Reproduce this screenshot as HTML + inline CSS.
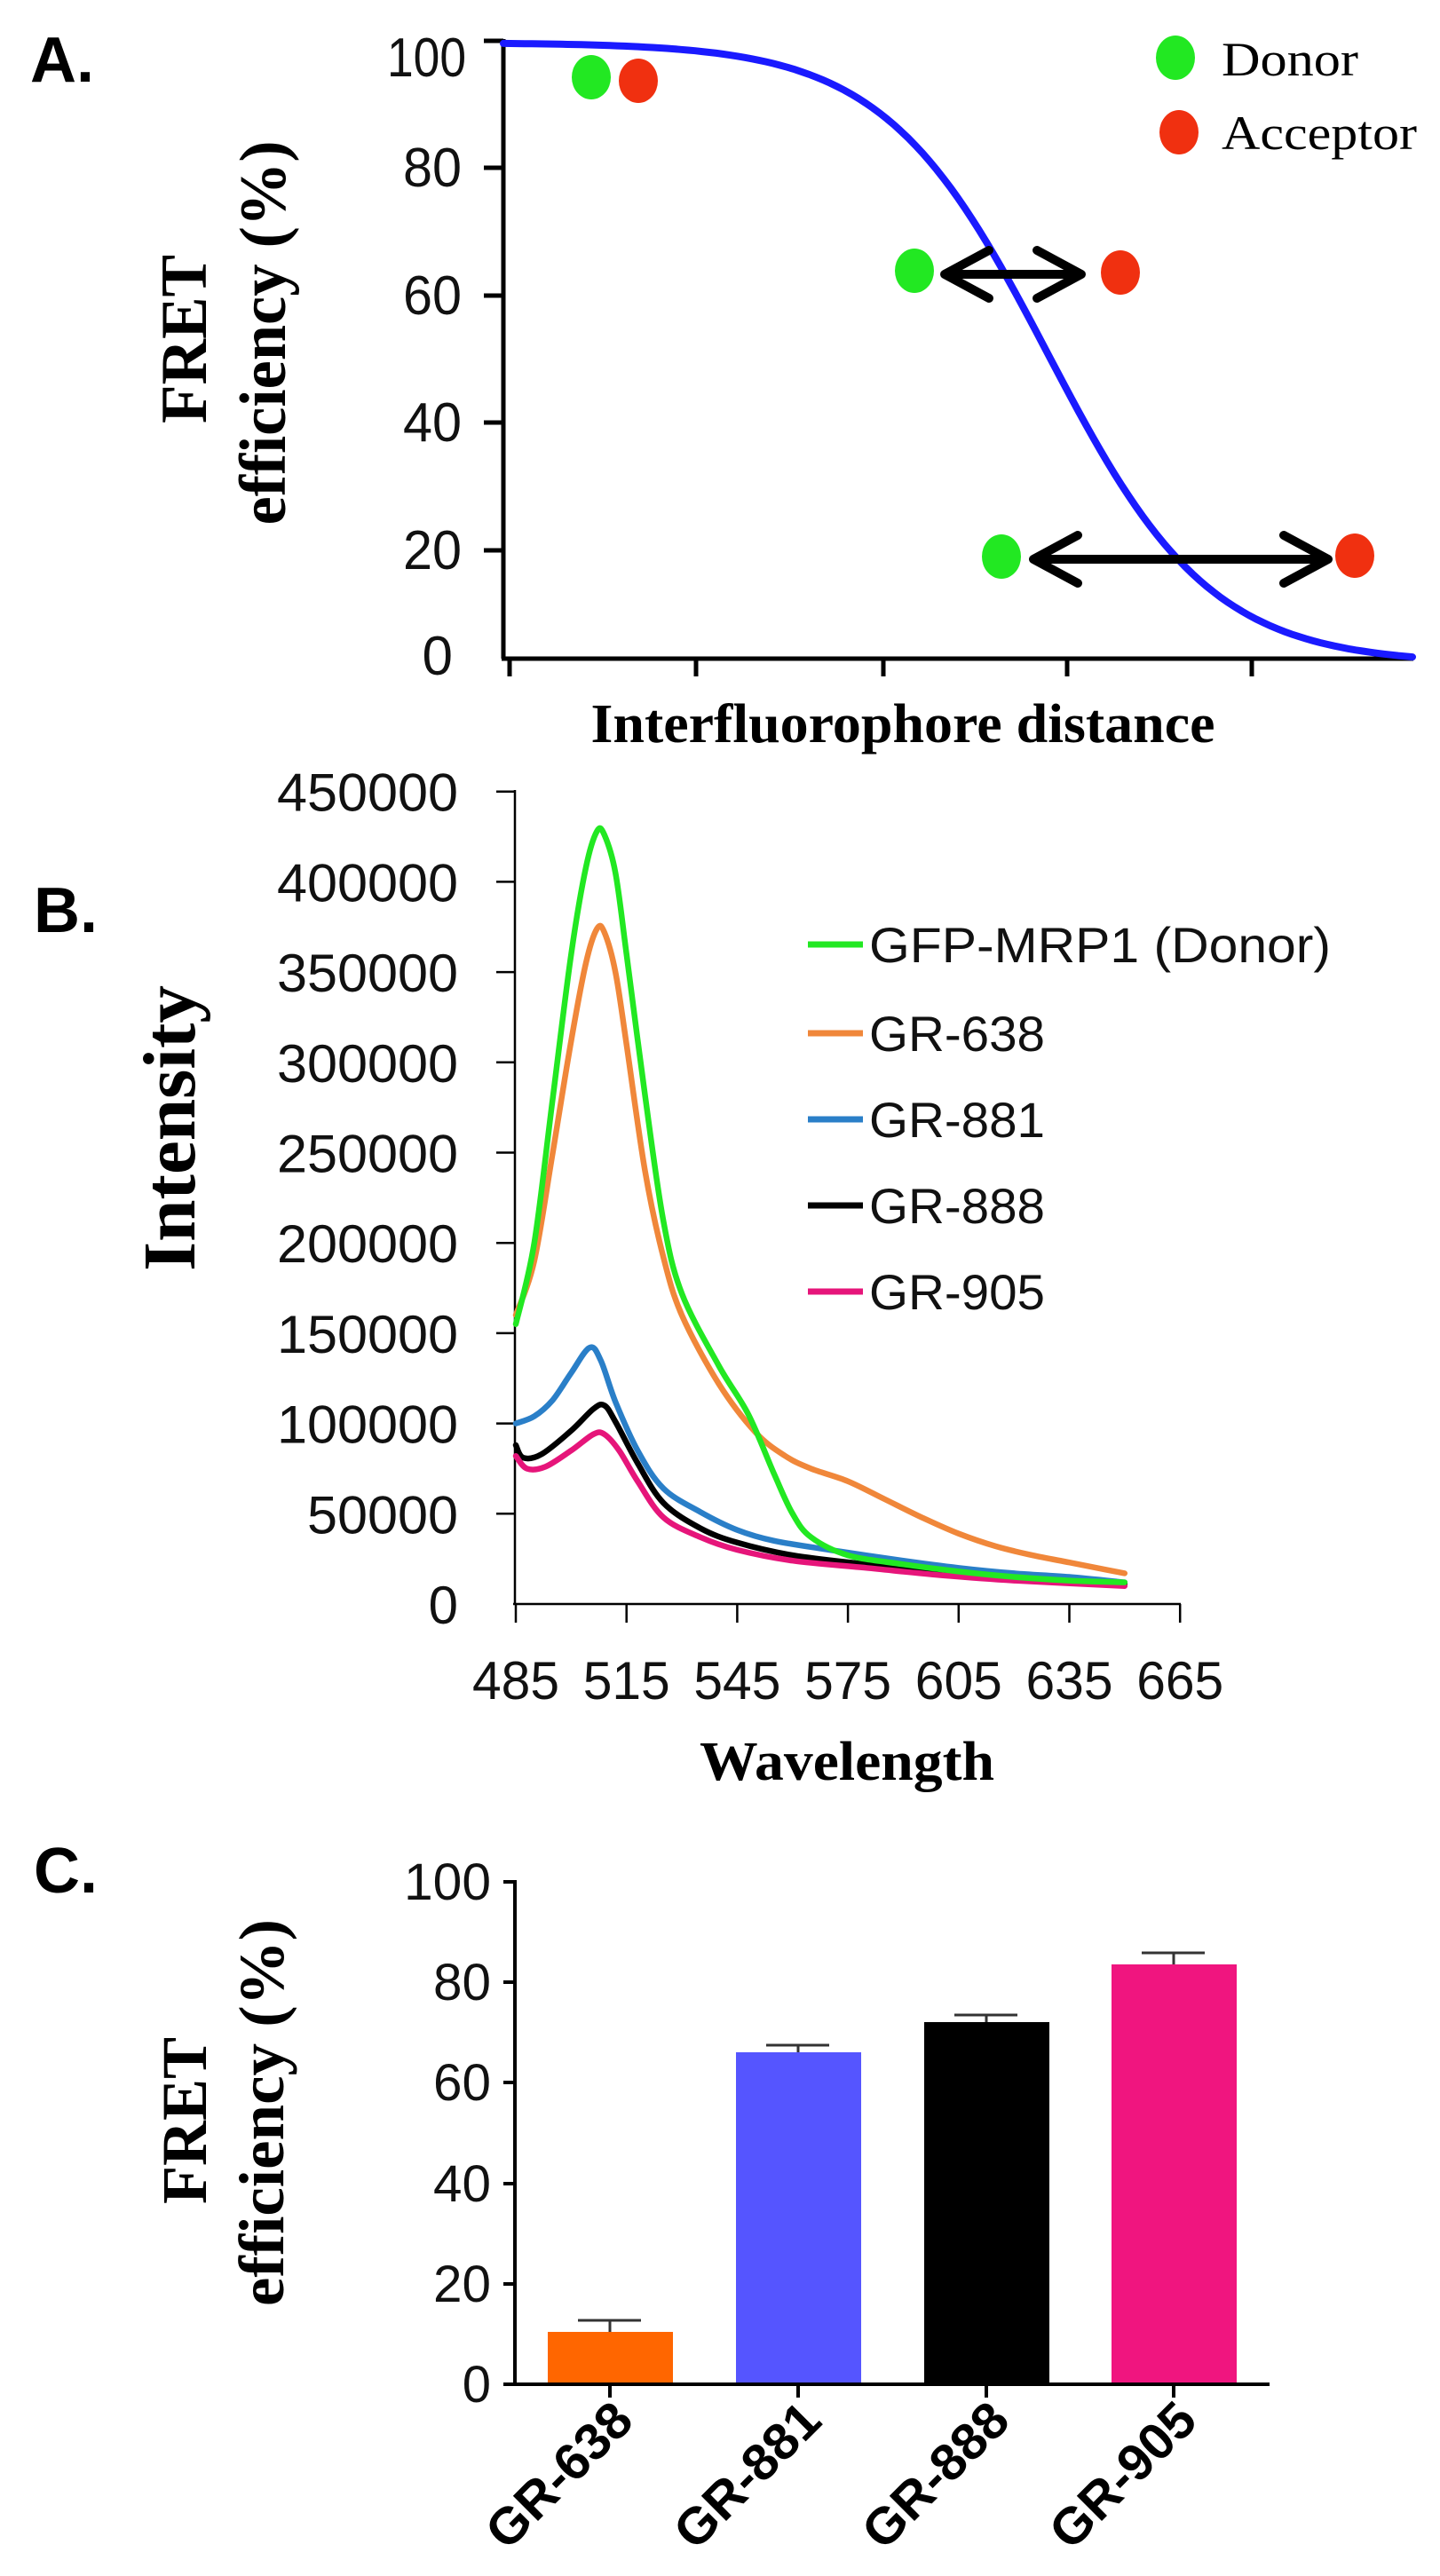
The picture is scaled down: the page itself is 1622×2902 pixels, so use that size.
<!DOCTYPE html>
<html><head><meta charset="utf-8">
<style>
html,body{margin:0;padding:0;background:#fff;}
svg{display:block;}
.sans{font-family:"Liberation Sans",sans-serif;}
.serif{font-family:"Liberation Serif",serif;}
</style></head>
<body>
<svg id="s" width="1622" height="2902" viewBox="0 0 1622 2902" xmlns="http://www.w3.org/2000/svg">
<rect width="1622" height="2902" fill="#fff"/>

<!-- ============ PANEL A ============ -->
<text x="34" y="92" class="sans" font-size="72" font-weight="bold">A.</text>
<g stroke="#000" stroke-width="5" fill="none">
  <line x1="567" y1="44" x2="567" y2="742"/>
  <line x1="565" y1="742" x2="1592" y2="742"/>
  <line x1="545" y1="46" x2="567" y2="46"/>
  <line x1="545" y1="189" x2="567" y2="189"/>
  <line x1="545" y1="333" x2="567" y2="333"/>
  <line x1="545" y1="476" x2="567" y2="476"/>
  <line x1="545" y1="620" x2="567" y2="620"/>
  <line x1="574" y1="742" x2="574" y2="762"/>
  <line x1="784" y1="742" x2="784" y2="762"/>
  <line x1="995" y1="742" x2="995" y2="762"/>
  <line x1="1202" y1="742" x2="1202" y2="762"/>
  <line x1="1410" y1="742" x2="1410" y2="762"/>
</g>
<g class="sans" font-size="62" text-anchor="end" fill="#111">
  <text x="525" y="86" textLength="89" lengthAdjust="spacingAndGlyphs">100</text>
  <text x="520" y="210" textLength="66" lengthAdjust="spacingAndGlyphs">80</text>
  <text x="520" y="354" textLength="66" lengthAdjust="spacingAndGlyphs">60</text>
  <text x="520" y="497" textLength="66" lengthAdjust="spacingAndGlyphs">40</text>
  <text x="520" y="641" textLength="66" lengthAdjust="spacingAndGlyphs">20</text>
  <text x="510" y="760">0</text>
</g>
<text transform="translate(232,382) rotate(-90)" class="serif" font-size="74" font-weight="bold" text-anchor="middle" textLength="190" lengthAdjust="spacingAndGlyphs">FRET</text>
<text transform="translate(321,375) rotate(-90)" class="serif" font-size="74" font-weight="bold" text-anchor="middle" textLength="433" lengthAdjust="spacingAndGlyphs">efficiency (%)</text>
<text x="1017" y="836" class="serif" font-size="62" font-weight="bold" text-anchor="middle" textLength="703" lengthAdjust="spacingAndGlyphs">Interfluorophore distance</text>

<path id="curveA" fill="none" stroke="#1a1aff" stroke-width="8" stroke-linecap="round"/>

<!-- dots & arrows -->
<ellipse cx="666" cy="87" rx="22" ry="25" fill="#22e822"/>
<ellipse cx="719" cy="91" rx="22" ry="25" fill="#f03010"/>
<ellipse cx="1324" cy="65" rx="22" ry="25" fill="#22e822"/>
<ellipse cx="1328" cy="149" rx="22" ry="25" fill="#f03010"/>
<text x="1376" y="85" class="serif" font-size="54" textLength="154" lengthAdjust="spacingAndGlyphs">Donor</text>
<text x="1376" y="168" class="serif" font-size="54" textLength="220" lengthAdjust="spacingAndGlyphs">Acceptor</text>

<ellipse cx="1030" cy="305" rx="22" ry="25" fill="#22e822"/>
<ellipse cx="1262" cy="307" rx="22" ry="25" fill="#f03010"/>
<ellipse cx="1128" cy="627" rx="22" ry="25" fill="#22e822"/>
<ellipse cx="1526" cy="626" rx="22" ry="25" fill="#f03010"/>
<g stroke="#000" stroke-width="10" fill="none" stroke-linecap="round" stroke-linejoin="round">
  <line x1="1066" y1="309" x2="1216" y2="309"/>
  <polyline points="1114,282 1064,309 1114,336"/>
  <polyline points="1168,282 1218,309 1168,336"/>
  <line x1="1166" y1="630" x2="1494" y2="630"/>
  <polyline points="1214,603 1164,630 1214,657"/>
  <polyline points="1446,603 1496,630 1446,657"/>
</g>

<!-- ============ PANEL B ============ -->
<text x="38" y="1050" class="sans" font-size="72" font-weight="bold">B.</text>
<g stroke="#000" stroke-width="2.5">
  <line x1="580" y1="890" x2="580" y2="1807"/>
  <line x1="578" y1="1807" x2="1330" y2="1807"/>
</g>
<g id="bticks" stroke="#000" stroke-width="2.5"></g>
<g id="blabels" class="sans" font-size="60" fill="#111"></g>
<text transform="translate(219,1271) rotate(-90)" class="serif" font-size="84" font-weight="bold" text-anchor="middle" textLength="322" lengthAdjust="spacingAndGlyphs">Intensity</text>
<text x="954" y="2005" class="serif" font-size="62" font-weight="bold" text-anchor="middle" textLength="332" lengthAdjust="spacingAndGlyphs">Wavelength</text>
<g id="bcurves" fill="none" stroke-width="6.5" stroke-linejoin="round" stroke-linecap="round"></g>
<g class="sans" font-size="56" fill="#111">
  <line x1="910" y1="1064" x2="972" y2="1064" stroke="#22e822" stroke-width="7"/>
  <text x="979" y="1084" textLength="520" lengthAdjust="spacingAndGlyphs">GFP-MRP1 (Donor)</text>
  <line x1="910" y1="1164" x2="972" y2="1164" stroke="#f0873a" stroke-width="7"/>
  <text x="979" y="1184" textLength="198" lengthAdjust="spacingAndGlyphs">GR-638</text>
  <line x1="910" y1="1261" x2="972" y2="1261" stroke="#2a7fc8" stroke-width="7"/>
  <text x="979" y="1281" textLength="198" lengthAdjust="spacingAndGlyphs">GR-881</text>
  <line x1="910" y1="1358" x2="972" y2="1358" stroke="#000" stroke-width="7"/>
  <text x="979" y="1378" textLength="198" lengthAdjust="spacingAndGlyphs">GR-888</text>
  <line x1="910" y1="1455" x2="972" y2="1455" stroke="#e6157a" stroke-width="7"/>
  <text x="979" y="1475" textLength="198" lengthAdjust="spacingAndGlyphs">GR-905</text>
</g>

<!-- ============ PANEL C ============ -->
<text x="38" y="2132" class="sans" font-size="72" font-weight="bold">C.</text>
<rect x="617" y="2627" width="141" height="59" fill="#ff6600"/>
<rect x="829" y="2312" width="141" height="374" fill="#5555ff"/>
<rect x="1041" y="2278" width="141" height="408" fill="#000"/>
<rect x="1252" y="2213" width="141" height="473" fill="#f0157f"/>
<g stroke="#333" stroke-width="3">
  <line x1="687" y1="2627" x2="687" y2="2614"/><line x1="651" y1="2614" x2="722" y2="2614"/>
  <line x1="899" y1="2312" x2="899" y2="2304"/><line x1="863" y1="2304" x2="934" y2="2304"/>
  <line x1="1111" y1="2278" x2="1111" y2="2270"/><line x1="1075" y1="2270" x2="1146" y2="2270"/>
  <line x1="1322" y1="2213" x2="1322" y2="2200"/><line x1="1286" y1="2200" x2="1357" y2="2200"/>
</g>
<g stroke="#000" stroke-width="4">
  <line x1="580" y1="2118" x2="580" y2="2688"/>
  <line x1="567" y1="2686" x2="1430" y2="2686"/>
  <line x1="567" y1="2120" x2="580" y2="2120"/>
  <line x1="567" y1="2233" x2="580" y2="2233"/>
  <line x1="567" y1="2346" x2="580" y2="2346"/>
  <line x1="567" y1="2460" x2="580" y2="2460"/>
  <line x1="567" y1="2573" x2="580" y2="2573"/>
  <line x1="687" y1="2686" x2="687" y2="2701"/>
  <line x1="899" y1="2686" x2="899" y2="2701"/>
  <line x1="1111" y1="2686" x2="1111" y2="2701"/>
  <line x1="1322" y1="2686" x2="1322" y2="2701"/>
</g>
<g class="sans" font-size="58" text-anchor="end" fill="#111">
  <text x="553" y="2140" textLength="98" lengthAdjust="spacingAndGlyphs">100</text>
  <text x="553" y="2253" textLength="65" lengthAdjust="spacingAndGlyphs">80</text>
  <text x="553" y="2366" textLength="65" lengthAdjust="spacingAndGlyphs">60</text>
  <text x="553" y="2480" textLength="65" lengthAdjust="spacingAndGlyphs">40</text>
  <text x="553" y="2593" textLength="65" lengthAdjust="spacingAndGlyphs">20</text>
  <text x="553" y="2706">0</text>
</g>
<text transform="translate(232,2389) rotate(-90)" class="serif" font-size="72" font-weight="bold" text-anchor="middle" textLength="188" lengthAdjust="spacingAndGlyphs">FRET</text>
<text transform="translate(319,2380) rotate(-90)" class="serif" font-size="72" font-weight="bold" text-anchor="middle" textLength="436" lengthAdjust="spacingAndGlyphs">efficiency (%)</text>
<g class="sans" font-size="58" font-weight="bold" text-anchor="end">
  <text transform="translate(716,2730) rotate(-45)" textLength="205" lengthAdjust="spacingAndGlyphs">GR-638</text>
  <text transform="translate(928,2730) rotate(-45)" textLength="205" lengthAdjust="spacingAndGlyphs">GR-881</text>
  <text transform="translate(1140,2730) rotate(-45)" textLength="205" lengthAdjust="spacingAndGlyphs">GR-888</text>
  <text transform="translate(1351,2730) rotate(-45)" textLength="205" lengthAdjust="spacingAndGlyphs">GR-905</text>
</g>
</svg>
<script>
(function(){
var NS="http://www.w3.org/2000/svg";
function cr(pts){
  var d="M"+pts[0][0].toFixed(1)+","+pts[0][1].toFixed(1);
  for(var i=0;i<pts.length-1;i++){
    var p0=pts[i-1]||pts[i],p1=pts[i],p2=pts[i+1],p3=pts[i+2]||p2;
    var c1=[p1[0]+(p2[0]-p0[0])/6,p1[1]+(p2[1]-p0[1])/6];
    var c2=[p2[0]-(p3[0]-p1[0])/6,p2[1]-(p3[1]-p1[1])/6];
    d+=" C"+c1[0].toFixed(1)+","+c1[1].toFixed(1)+" "+c2[0].toFixed(1)+","+c2[1].toFixed(1)+" "+p2[0].toFixed(1)+","+p2[1].toFixed(1);
  }
  return d;
}
// Panel A curve: logistic
var a=[];
for(var x=567;x<=1591;x+=8){a.push([x,48+700/(1+Math.exp(-(x-1180)/92))]);}
a.push([1591,48+700/(1+Math.exp(-(1591-1180)/92))]);
var d="M"+a.map(function(p){return p[0].toFixed(1)+","+p[1].toFixed(1);}).join(" L");
document.getElementById("curveA").setAttribute("d",d);
// Panel B
var X=function(nm){return 581+(nm-485)*124.7/30;};
var Y=function(v){return 1807-v*101.7/50000;};
var g=document.getElementById("bticks"),L=document.getElementById("blabels");
for(var k=0;k<=9;k++){
  var y=1807-k*101.7;
  if(k>0){var l=document.createElementNS(NS,"line");l.setAttribute("x1",559);l.setAttribute("x2",580);l.setAttribute("y1",y);l.setAttribute("y2",y);g.appendChild(l);}
  var t=document.createElementNS(NS,"text");t.setAttribute("x",516);t.setAttribute("y",y+22);t.setAttribute("text-anchor","end");
  var s=String(k*50000);t.textContent=s;
  if(s.length>1){t.setAttribute("textLength",s.length*34);t.setAttribute("lengthAdjust","spacingAndGlyphs");}
  L.appendChild(t);
}
for(var i=0;i<=6;i++){
  var x2=581+i*124.7;
  var l2=document.createElementNS(NS,"line");l2.setAttribute("x1",x2);l2.setAttribute("x2",x2);l2.setAttribute("y1",1807);l2.setAttribute("y2",1828);g.appendChild(l2);
  var t2=document.createElementNS(NS,"text");t2.setAttribute("x",x2);t2.setAttribute("y",1914);t2.setAttribute("text-anchor","middle");
  t2.setAttribute("textLength",98);t2.setAttribute("lengthAdjust","spacingAndGlyphs");
  t2.textContent=String(485+i*30);L.appendChild(t2);
}
var series=[
 ["#f0873a",[[485,160e3],[490,190e3],[495,250e3],[500,312e3],[504,355e3],[507,374e3],[509,372e3],[512,350e3],[515,310e3],[520,240e3],[525,192e3],[530,160e3],[540,122e3],[550,95e3],[558,82e3],[565,75e3],[575,68e3],[585,58e3],[595,48e3],[605,39e3],[615,32e3],[625,27e3],[635,23e3],[645,19e3],[650,17e3]]],
 ["#2a7fc8",[[485,100e3],[490,104e3],[495,113e3],[500,128e3],[505,142e3],[508,135e3],[512,112e3],[518,85e3],[525,64e3],[535,51e3],[545,41e3],[555,35e3],[570,30e3],[590,24e3],[605,20e3],[620,17e3],[635,15e3],[650,12e3]]],
 ["#000",[[485,88e3],[487,81e3],[492,83e3],[500,96e3],[506,108e3],[509,110e3],[512,101e3],[518,78e3],[525,56e3],[535,42e3],[545,34e3],[560,27e3],[580,22e3],[600,18e3],[620,14e3],[650,11e3]]],
 ["#e6157a",[[485,82e3],[488,75e3],[493,76e3],[500,85e3],[506,94e3],[509,94e3],[513,85e3],[518,68e3],[525,48e3],[535,37e3],[545,30e3],[560,24e3],[580,20e3],[600,16e3],[620,13e3],[650,10e3]]],
 ["#22e822",[[485,155e3],[490,200e3],[495,280e3],[500,360e3],[504,408e3],[507,428e3],[509,426e3],[512,405e3],[515,360e3],[520,282e3],[525,212e3],[530,172e3],[540,132e3],[548,105e3],[555,72e3],[560,50e3],[565,37e3],[575,27e3],[590,22e3],[605,18e3],[620,15e3],[635,13e3],[650,12e3]]]
];
var G=document.getElementById("bcurves");
series.forEach(function(s){
  var p=document.createElementNS(NS,"path");
  p.setAttribute("stroke",s[0]);
  p.setAttribute("d",cr(s[1].map(function(q){return [X(q[0]),Y(q[1])];})));
  G.appendChild(p);
});
})();
</script>
</body></html>
